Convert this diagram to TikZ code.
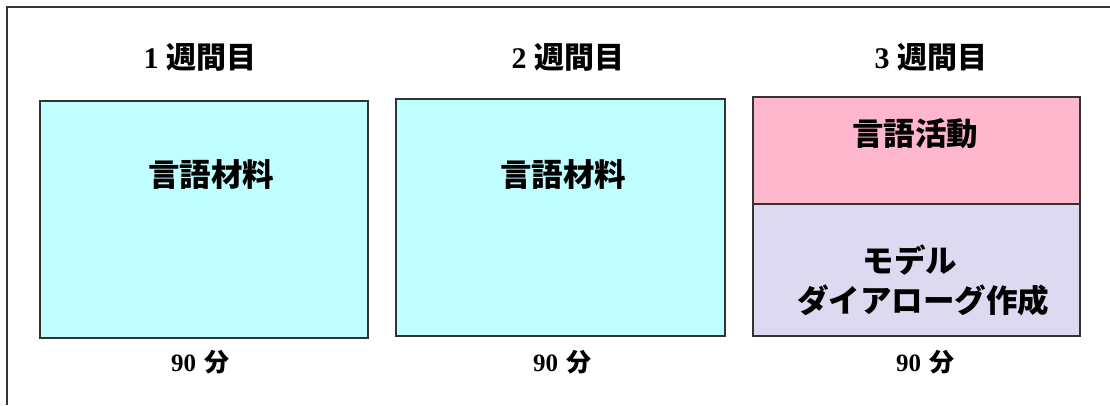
\documentclass[tikz,border=0pt]{standalone}
\usepackage{fontspec}
\setmainfont{Liberation Serif}
\newfontfamily\cjk{Noto Sans CJK JP}
\definecolor{cyanfill}{HTML}{C0FFFF}
\definecolor{pinkfill}{HTML}{FFB7CD}
\definecolor{lavfill}{HTML}{DDD9F0}
\definecolor{edge}{HTML}{333333}
\begin{document}
\begin{tikzpicture}[x=1pt,y=-1pt,
  box/.style={draw=edge,line width=1.6pt},
  title/.style={font=\bfseries\fontsize{30}{33}\selectfont, inner sep=0pt},
  lbl/.style={font=\cjk\bfseries\fontsize{31.5}{40}\selectfont, inner sep=0pt, align=center},
  dur/.style={font=\bfseries\fontsize{25}{28}\selectfont, inner sep=0pt}]
\useasboundingbox (0,0) rectangle (1110,405);
\fill[white] (0,0) rectangle (1110,405);
% outer frame
\coordinate (fbl) at (7,405);
\coordinate (ftl) at (7,7);
\coordinate (ftr) at (1110,7);
\draw[edge,line width=2pt] (fbl) -- (ftl) -- (ftr);
% boxes
\node[box,fill=cyanfill,minimum width=328pt,minimum height=237pt,inner sep=0pt,anchor=north west] (b1) at (39,100) {};
\node[box,fill=cyanfill,minimum width=329pt,minimum height=237pt,inner sep=0pt,anchor=north west] (b2) at (395,98) {};
\node[box,fill=pinkfill,minimum width=327pt,minimum height=107pt,inner sep=0pt,anchor=north west] (b3a) at (752,96) {};
\node[box,fill=lavfill,minimum width=327pt,minimum height=132pt,inner sep=0pt,anchor=north west] (b3b) at (752,203) {};
% titles
\node[title] (t1) at (200,57) {1\kern8pt{\cjk 週間目}};
\node[title] (t2) at (568,57) {2\kern8pt{\cjk 週間目}};
\node[title] (t3) at (931,57) {3\kern8pt{\cjk 週間目}};
% labels
\node[lbl] (l1) at (211,175) {言語材料};
\node[lbl] (l2) at (563,175) {言語材料};
\node[lbl] (l3) at (915,134) {言語活動};
\node[lbl] (l4) at (910,260) {モデル};
\node[lbl] (l5) at (923,300) {ダイアローグ作成};
% durations
\node[dur] (d1) at (200,362) {90\kern8pt{\cjk 分}};
\node[dur] (d2) at (562,362) {90\kern8pt{\cjk 分}};
\node[dur] (d3) at (925,362) {90\kern8pt{\cjk 分}};
\end{tikzpicture}
\end{document}
